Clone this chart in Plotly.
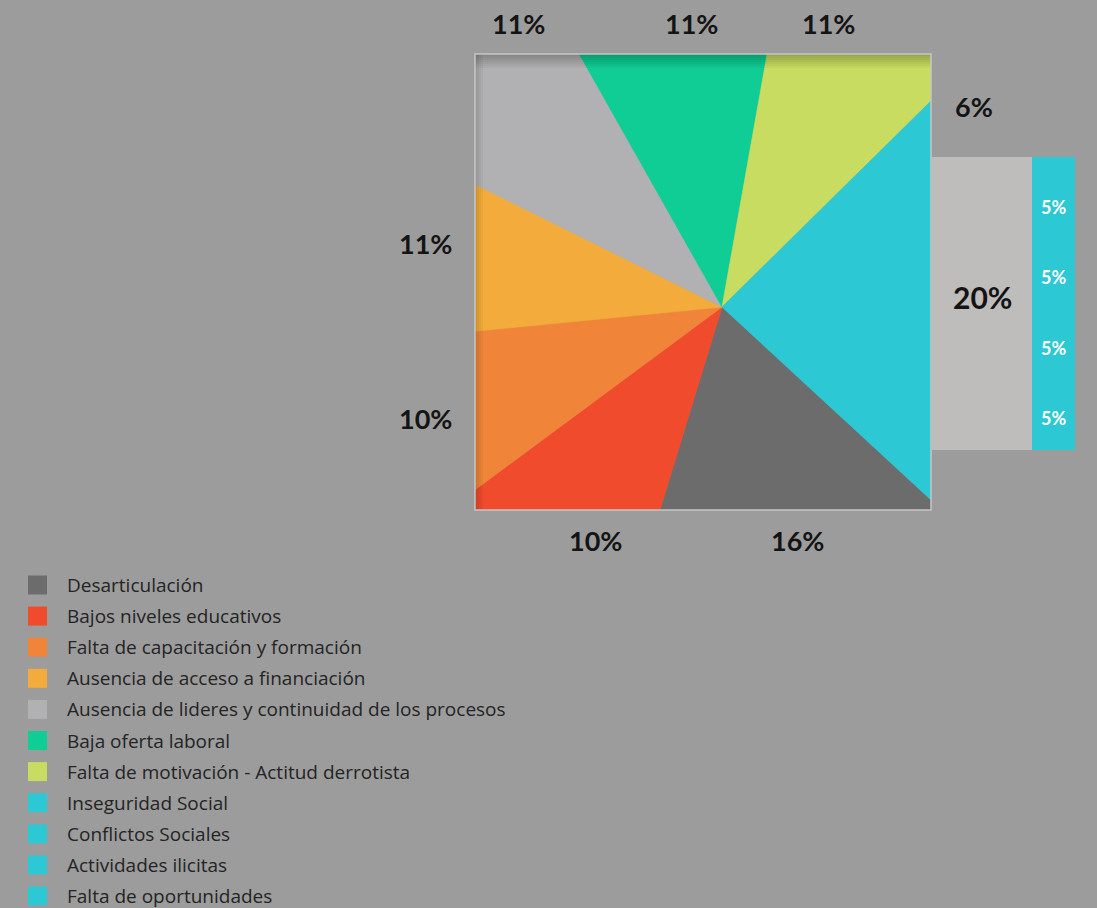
import plotly.graph_objects as go

W, H = 1097, 908

# ---------------- data ----------------
legend_labels = [
    "Desarticulación",
    "Bajos niveles educativos",
    "Falta de capacitación y formación",
    "Ausencia de acceso a financiación",
    "Ausencia de lideres y continuidad de los procesos",
    "Baja oferta laboral",
    "Falta de motivación - Actitud derrotista",
    "Inseguridad Social",
    "Conflictos Sociales",
    "Actividades ilicitas",
    "Falta de oportunidades",
]
legend_colors = [
    "#6c6c6c", "#f04b2d", "#f0853a", "#f3ac3b", "#b1b1b3",
    "#10cd95", "#c8dc62", "#2cc8d3", "#2cc8d3", "#2cc8d3", "#2cc8d3",
]
# area share of each slice in the square, clockwise
wedge_share = [13.7, 10.2, 9.4, 8.7, 14.05, 11.4, 12.3]
# the cyan slice is made of the four 5% parts
cyan_parts = [5, 5, 5, 5]
cyan_part_labels = ["5%", "5%", "5%", "5%"]
total_cyan_label = "20%"
perimeter_labels = ["11%", "11%", "11%", "6%", "11%", "10%", "10%", "16%"]

# ---------------- layout parameters ----------------
SQ = (475, 54, 931, 510)          # square box in pixels (x0, y0, x1, y1)
APEX = (0.5417, 0.4452)           # apex of the slices, in square units
START = 0.5015                    # rotation: area offset from top-left corner
BAR = (932, 157, 1075, 450)       # right bar box in pixels
perim_label_pos = [(518, 24), (691, 24), (828, 24), (974, 106),
                   (425, 243), (425, 418), (595, 540), (797, 540)]
part_label_y = [418, 348, 277, 207]
LEG_X, LEG_Y0, LEG_DY, LEG_TX = 37.5, 585, 31.1, 65

BG = "#9c9c9c"
PCT_FONT = dict(family="Lato, 'Open Sans', sans-serif", size=27, color="#141414")


def px(x):
    return x / W


def py(y):
    return 1 - y / H


# ---------------- geometry of a square pie ----------------
ax_, ay_ = APEX
corners = [(0, 1), (1, 1), (1, 0), (0, 0)]
edge_area = [(1 - ay_) / 2, (1 - ax_) / 2, ay_ / 2, ax_ / 2]
cpos = [sum(edge_area[:k]) for k in range(4)]


def perim_point(a):
    a = a % 1.0
    for k in range(4):
        if a <= edge_area[k] + 1e-12:
            t = a / edge_area[k]
            p0, p1 = corners[k], corners[(k + 1) % 4]
            return (p0[0] + (p1[0] - p0[0]) * t, p0[1] + (p1[1] - p0[1]) * t)
        a -= edge_area[k]
    return corners[0]


def wedge(a0, a1):
    pts = [APEX, perim_point(a0)]
    for wrap in (0, 1):
        for k in range(4):
            c = cpos[k] + wrap
            if a0 < c < a1:
                pts.append(corners[k])
    pts.append(perim_point(a1))
    pts.append(APEX)
    return [p[0] for p in pts], [p[1] for p in pts]


shares = wedge_share + [sum(cyan_parts)]
colors = legend_colors[:7] + [legend_colors[7]]
names = legend_labels[:7] + [" / ".join(legend_labels[7:])]
total = sum(shares)

fig = go.Figure()
acc = START
for s, c, n in zip(shares, colors, names):
    a1 = acc + s / total
    xs, ys = wedge(acc, a1)
    fig.add_trace(go.Scatter(
        x=xs, y=ys, mode="lines", fill="toself", fillcolor=c,
        line=dict(color=c, width=0.6), name=n, hoverinfo="name",
        showlegend=False, xaxis="x", yaxis="y"))
    acc = a1

# ---------------- right bar ----------------
bw_gray = BAR[2] - BAR[0] - 43
fig.add_trace(go.Bar(
    x=[bw_gray / 2], y=[sum(cyan_parts)], width=[bw_gray],
    marker=dict(color="#bfbcbc", line=dict(width=0)),
    showlegend=False, xaxis="x2", yaxis="y2", hoverinfo="skip"))
for v, lab, n in zip(cyan_parts, cyan_part_labels, legend_labels[7:]):
    fig.add_trace(go.Bar(
        x=[bw_gray + 43 / 2], y=[v], width=[43], name=n,
        marker=dict(color=legend_colors[7], line=dict(width=0)),
        showlegend=False, xaxis="x2", yaxis="y2"))

# ---------------- legend keys ----------------
fig.add_trace(go.Scatter(
    x=[LEG_X] * len(legend_labels),
    y=[LEG_Y0 + LEG_DY * i for i in range(len(legend_labels))],
    mode="markers",
    marker=dict(symbol="square", size=19, color=legend_colors, line=dict(width=0)),
    showlegend=False, hoverinfo="skip", xaxis="x3", yaxis="y3"))

annotations = []
for i, lab in enumerate(legend_labels):
    annotations.append(dict(
        x=px(LEG_TX), y=py(LEG_Y0 + LEG_DY * i), xref="paper", yref="paper",
        text=lab, showarrow=False, xanchor="left", yanchor="middle",
        font=dict(family="'Open Sans', 'Noto Sans', sans-serif", size=19, color="#242424")))

for lab, (x, y) in zip(perimeter_labels, perim_label_pos):
    annotations.append(dict(
        x=px(x), y=py(y), xref="paper", yref="paper", text="<b>%s</b>" % lab,
        showarrow=False, xanchor="center", yanchor="middle", font=PCT_FONT))

annotations.append(dict(
    x=px((BAR[0] + BAR[2] - 43) / 2), y=py(297), xref="paper", yref="paper",
    text="<b>%s</b>" % total_cyan_label, showarrow=False,
    xanchor="center", yanchor="middle", font=dict(PCT_FONT, size=30)))
for lab, y in zip(cyan_part_labels, part_label_y):
    annotations.append(dict(
        x=px(BAR[2] - 43 / 2), y=py(y), xref="paper", yref="paper",
        text="<b>%s</b>" % lab, showarrow=False, xanchor="center", yanchor="middle",
        font=dict(family="Lato, sans-serif", size=18, color="white")))

# ---------------- shapes (shadow + border) ----------------
shapes = []
for k in range(1, 8):
    shapes.append(dict(type="rect", xref="paper", yref="paper",
                       x0=px(SQ[0]), x1=px(SQ[2]), y0=py(SQ[1] + 2 * k), y1=py(SQ[1]),
                       fillcolor="black", opacity=0.035, line=dict(width=0), layer="above"))
for k in range(1, 5):
    shapes.append(dict(type="rect", xref="paper", yref="paper",
                       x0=px(SQ[0]), x1=px(SQ[0] + 2 * k), y0=py(SQ[3]), y1=py(SQ[1]),
                       fillcolor="black", opacity=0.035, line=dict(width=0), layer="above"))
shapes.append(dict(type="rect", xref="paper", yref="paper",
                   x0=px(SQ[0]), x1=px(SQ[2]), y0=py(SQ[3]), y1=py(SQ[1]),
                   line=dict(color="#c6c6c6", width=1.5), layer="above"))

hidden = dict(visible=False, showgrid=False, zeroline=False, fixedrange=True)
fig.update_layout(
    width=W, height=H, margin=dict(l=0, r=0, t=0, b=0),
    paper_bgcolor=BG, plot_bgcolor="rgba(0,0,0,0)",
    showlegend=False, barmode="stack", bargap=0,
    xaxis=dict(domain=[px(SQ[0]), px(SQ[2])], range=[0, 1], anchor="y", **hidden),
    yaxis=dict(domain=[py(SQ[3]), py(SQ[1])], range=[0, 1], anchor="x", **hidden),
    xaxis2=dict(domain=[px(BAR[0]), px(BAR[2])], range=[0, BAR[2] - BAR[0]], anchor="y2", **hidden),
    yaxis2=dict(domain=[py(BAR[3]), py(BAR[1])], range=[0, sum(cyan_parts)], anchor="x2", **hidden),
    xaxis3=dict(domain=[0, 1], range=[0, W], anchor="y3", **hidden),
    yaxis3=dict(domain=[0, 1], range=[H, 0], anchor="x3", **hidden),
    annotations=annotations, shapes=shapes,
)

fig.write_html(
    "out.html",
    config={"displayModeBar": False},
    post_script="document.body.style.margin='0';document.body.style.overflow='hidden';",
)
